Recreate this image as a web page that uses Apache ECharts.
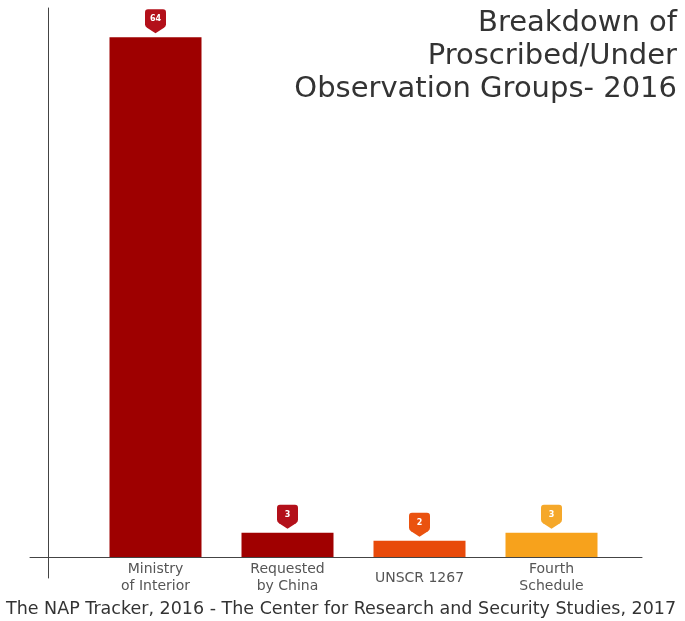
<!DOCTYPE html>
<html>
<head>
<meta charset="utf-8">
<script src="https://cdn.jsdelivr.net/npm/echarts@6/dist/echarts.min.js"></script>
<style>html,body{margin:0;padding:0;background:#fff}#c{width:685px;height:621px}</style>
</head>
<body>
<div id="c"></div>
<script>
const categories = ['Ministry\nof Interior', 'Requested\nby China', 'UNSCR 1267', 'Fourth\nSchedule'];
const values = [64, 3, 2, 3];
const barColors = ['#9e0000', '#a00000', '#e84a0b', '#f7a21c'];
const pinColors = ['#b3101a', '#b3101a', '#ea520f', '#f5a82a'];
const titleText = 'Breakdown of\nProscribed/Under\nObservation Groups- 2016';
const sourceText = 'The NAP Tracker, 2016 - The Center for Research and Security Studies, 2017';

const FONT = 'DejaVu Sans';
const chart = echarts.init(document.getElementById('c'), null, {renderer: 'canvas'});
const pinPath = 'path://M3,0 H18 Q21,0 21,3 V15 Q21,17 19,18.5 L10.5,24 L2,18.5 Q0,17 0,15 V3 Q0,0 3,0 Z';

chart.setOption({
  backgroundColor: '#fff',
  animation: false,
  graphic: [{
    type: 'text', x: 677, y: 7,
    style: {text: titleText, font: '29px "DejaVu Sans"', fill: '#333', align: 'right', verticalAlign: 'top', lineHeight: 33}
  }, {
    type: 'text', left: 6, top: 600,
    style: {text: sourceText, font: '17.5px "DejaVu Sans"', fill: '#333'}
  }],
  grid: [
    {left: 89.5, right: 67.5, top: 8, bottom: 64},
    {left: 30, right: 43, top: 8, bottom: 43}
  ],
  xAxis: [{
    type: 'category', gridIndex: 0, data: categories,
    axisLine: {show: false}, axisTick: {show: false},
    axisLabel: {fontFamily: FONT, fontSize: 14, lineHeight: 17, color: '#555', margin: 21, verticalAlign: 'middle', interval: 0}
  }, {
    type: 'value', gridIndex: 1, min: -18, max: 594,
    axisLine: {show: true, onZero: true, lineStyle: {color: '#444', width: 1}},
    axisTick: {show: false}, axisLabel: {show: false}, splitLine: {show: false}
  }],
  yAxis: [{
    type: 'value', gridIndex: 0, min: 0, max: 67.6,
    axisLine: {show: false}, axisTick: {show: false}, axisLabel: {show: false}, splitLine: {show: false}
  }, {
    type: 'value', gridIndex: 1, min: -21, max: 549,
    axisLine: {show: true, onZero: true, lineStyle: {color: '#444', width: 1}},
    axisTick: {show: false}, axisLabel: {show: false}, splitLine: {show: false}
  }],
  series: [{
    type: 'bar', xAxisIndex: 0, yAxisIndex: 0,
    barWidth: 92,
    data: values.map((v, i) => ({value: v, itemStyle: {color: barColors[i]}})),
    markPoint: {
      symbol: pinPath,
      symbolSize: [21, 24],
      symbolOffset: [0, -16],
      label: {show: true, color: '#fff', fontFamily: FONT, fontSize: 8, fontWeight: 'bold', offset: [0, -2]},
      data: values.map((v, i) => ({coord: [i, v], value: v, itemStyle: {color: pinColors[i]}}))
    }
  }]
});
</script>
</body>
</html>
